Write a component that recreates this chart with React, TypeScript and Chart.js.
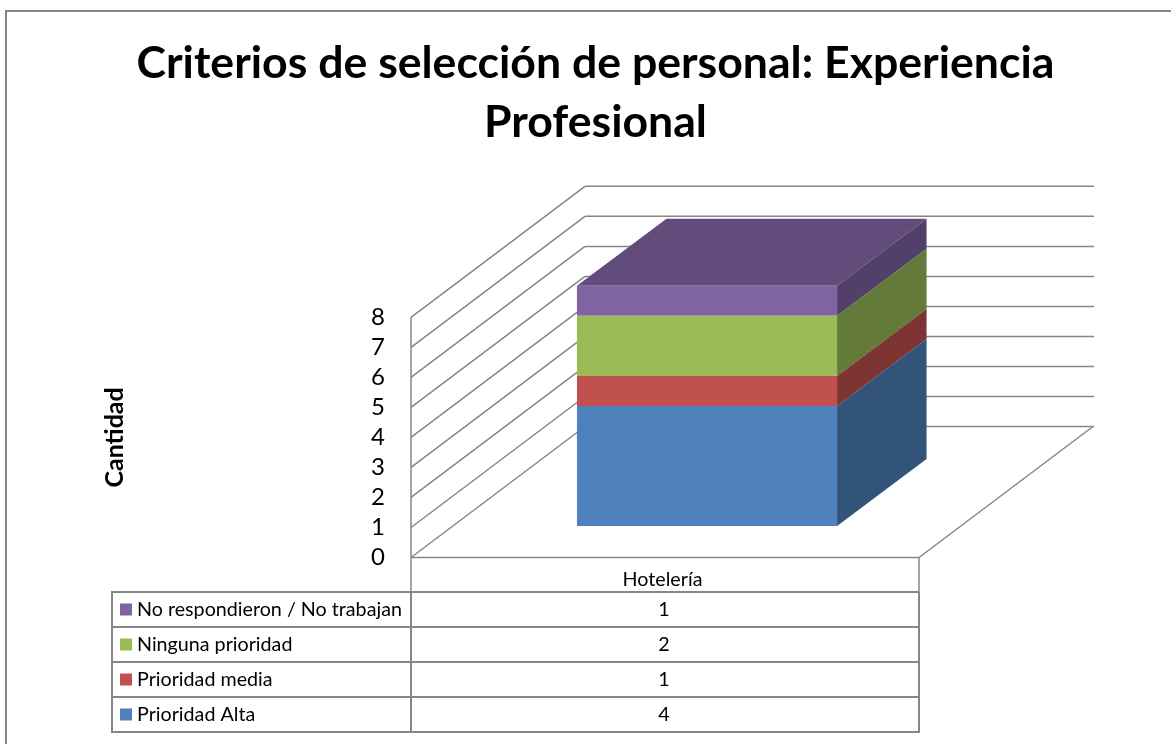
import React, { useEffect, useRef } from "react";
import { Chart, registerables } from "chart.js";

Chart.register(...registerables);

const categories = ["Hotelería"];
const altaValues = [4];
const mediaValues = [1];
const ningunaValues = [2];
const noRespValues = [1];
const titleLines = ["Criterios de selección de personal: Experiencia", "Profesional"];
const axisTitle = "Cantidad";
const FONT = "Lato, Carlito, sans-serif";
const GRID = "#868686";

const WALL = { dx: 174, dy: -131 };
const BAR_OFF = { dx: 42, dy: -31.5 };
const BAR_DEPTH = { dx: 89.5, dy: -67 };

const shade: Record<string, { side: string; top: string }> = {
  "#4F81BD": { side: "#325478", top: "#3F6797" },
  "#C0504D": { side: "#7D3432", top: "#9A403E" },
  "#9BBB59": { side: "#647A38", top: "#7C9647" },
  "#8064A2": { side: "#53406A", top: "#624C7C" },
};

const poly = (ctx: CanvasRenderingContext2D, pts: number[][], fill: string) => {
  ctx.beginPath();
  pts.forEach((p, i) => (i ? ctx.lineTo(p[0], p[1]) : ctx.moveTo(p[0], p[1])));
  ctx.closePath();
  ctx.fillStyle = fill;
  ctx.fill();
};

const line = (ctx: CanvasRenderingContext2D, x1: number, y1: number, x2: number, y2: number, w = 1.5) => {
  ctx.beginPath();
  ctx.moveTo(x1, y1);
  ctx.lineTo(x2, y2);
  ctx.lineWidth = w;
  ctx.strokeStyle = GRID;
  ctx.stroke();
};

const scene = {
  id: "scene",
  beforeDraw(chart: any) {
    const { ctx, width, height } = chart;
    ctx.save();
    ctx.fillStyle = "#fff";
    ctx.fillRect(0, 0, width, height);
    line(ctx, 6, 11, 6, height, 2);
    line(ctx, 5, 11, width, 11, 2);
    ctx.restore();
  },
  beforeDatasetsDraw(chart: any) {
    const { ctx, chartArea: a, scales } = chart;
    const y = scales.y;
    ctx.save();
    y.ticks.forEach((t: any) => {
      const py = y.getPixelForValue(t.value);
      line(ctx, a.left, py, a.left + WALL.dx, py + WALL.dy);
      line(ctx, a.left + WALL.dx, py + WALL.dy, 1094, py + WALL.dy);
    });
    line(ctx, a.left, a.top, a.left, a.bottom);
    line(ctx, a.left, a.bottom, a.right, a.bottom);
    line(ctx, a.right, a.bottom, a.right + WALL.dx, a.bottom + WALL.dy);
    ctx.restore();
  },
  beforeDatasetDraw(chart: any, args: any) {
    const { ctx } = chart;
    const meta = chart.getDatasetMeta(args.index);
    const color = chart.data.datasets[args.index].backgroundColor;
    ctx.save();
    ctx.translate(BAR_OFF.dx, BAR_OFF.dy);
    meta.data.forEach((b: any) => {
      const r = b.x + b.width / 2;
      const l = b.x - b.width / 2;
      const { dx, dy } = BAR_DEPTH;
      poly(ctx, [[r, b.y], [r + dx, b.y + dy], [r + dx, b.base + dy], [r, b.base]], shade[color].side);
      if (args.index === chart.data.datasets.length - 1) {
        poly(ctx, [[l, b.y], [l + dx, b.y + dy], [r + dx, b.y + dy], [r, b.y]], shade[color].top);
      }
    });
  },
  afterDatasetDraw(chart: any) {
    chart.ctx.restore();
  },
  afterDatasetsDraw(chart: any) {
    const { ctx, chartArea: a } = chart;
    const tableLeft = 112;
    const rowTop = 592;
    const rowH = 35;
    const rows = [...chart.data.datasets].reverse();
    ctx.save();
    line(ctx, a.left, a.bottom, a.left, rowTop);
    line(ctx, a.right, a.bottom, a.right, rowTop);
    rows.forEach((_: any, i: number) => {
      line(ctx, tableLeft, rowTop + i * rowH, a.right, rowTop + i * rowH, 2);
    });
    const bottom = rowTop + rows.length * rowH;
    line(ctx, tableLeft, bottom, a.right, bottom, 2);
    line(ctx, tableLeft, rowTop - 1, tableLeft, bottom + 1, 2);
    line(ctx, a.left, rowTop, a.left, bottom, 2);
    line(ctx, a.right, rowTop, a.right, bottom + 1, 2);

    ctx.fillStyle = "#000";
    ctx.textBaseline = "middle";
    ctx.font = `19.7px ${FONT}`;
    ctx.textAlign = "center";
    const cx = chart.scales.x.getPixelForValue(0);
    ctx.fillText(chart.data.labels[0], cx - 2.5, 580);
    rows.forEach((ds: any, i: number) => {
      const my = rowTop + (i + 0.5) * rowH;
      ctx.fillStyle = ds.backgroundColor;
      ctx.fillRect(120, my - 6, 12, 12);
      ctx.fillStyle = "#000";
      ctx.textAlign = "left";
      ctx.fillText(ds.label, 137, my);
      ctx.textAlign = "center";
      ctx.fillText(String(ds.data[0]), cx - 1, my);
    });
    ctx.restore();
  },
};

export default function App() {
  const ref = useRef<HTMLCanvasElement>(null);
  useEffect(() => {
    const chart = new Chart(ref.current!, {
      type: "bar",
      data: {
        labels: categories,
        datasets: [
          { label: "Prioridad Alta", data: altaValues, backgroundColor: "#4F81BD" },
          { label: "Prioridad media", data: mediaValues, backgroundColor: "#C0504D" },
          { label: "Ninguna prioridad", data: ningunaValues, backgroundColor: "#9BBB59" },
          { label: "No respondieron / No trabajan", data: noRespValues, backgroundColor: "#8064A2" },
        ],
      },
      options: {
        animation: false,
        responsive: false,
        layout: { padding: { left: 20, bottom: 186.5, top: 0, right: 0 } },
        datasets: { bar: { categoryPercentage: 1, barPercentage: 0.512, clip: false, borderWidth: 0 } },
        plugins: {
          legend: { display: false },
          tooltip: { enabled: false },
          title: {
            display: true,
            text: titleLines,
            color: "#000",
            font: { family: FONT, size: 44.6, weight: "bold", lineHeight: 1.32 },
            padding: { top: 34, bottom: 165.6 },
          },
        },
        scales: {
          x: { display: false, stacked: true, grid: { display: false } },
          y: {
            stacked: true,
            min: 0,
            max: 8,
            afterFit(s: any) {
              s.width = 391;
            },
            border: { display: false },
            grid: { display: false, drawTicks: false },
            ticks: { stepSize: 1, autoSkip: false, color: "#000", padding: 26, font: { family: FONT, size: 24 } },
            title: {
              display: true,
              text: axisTitle,
              color: "#000",
              font: { family: FONT, size: 25, weight: "bold" },
              padding: { top: 80, bottom: 0 },
            },
          },
          spacer: {
            type: "linear",
            position: "right",
            afterFit(s: any) {
              s.width = 252;
            },
            border: { display: false },
            grid: { display: false, drawTicks: false },
            ticks: { display: false },
          },
        },
      },
      plugins: [scene],
    } as any);
    return () => chart.destroy();
  }, []);
  return (
    <div style={{ position: "absolute", left: 0, top: 0, width: 1171, height: 744 }}>
      <canvas ref={ref} width={1171} height={744} style={{ display: "block" }} />
    </div>
  );
}
